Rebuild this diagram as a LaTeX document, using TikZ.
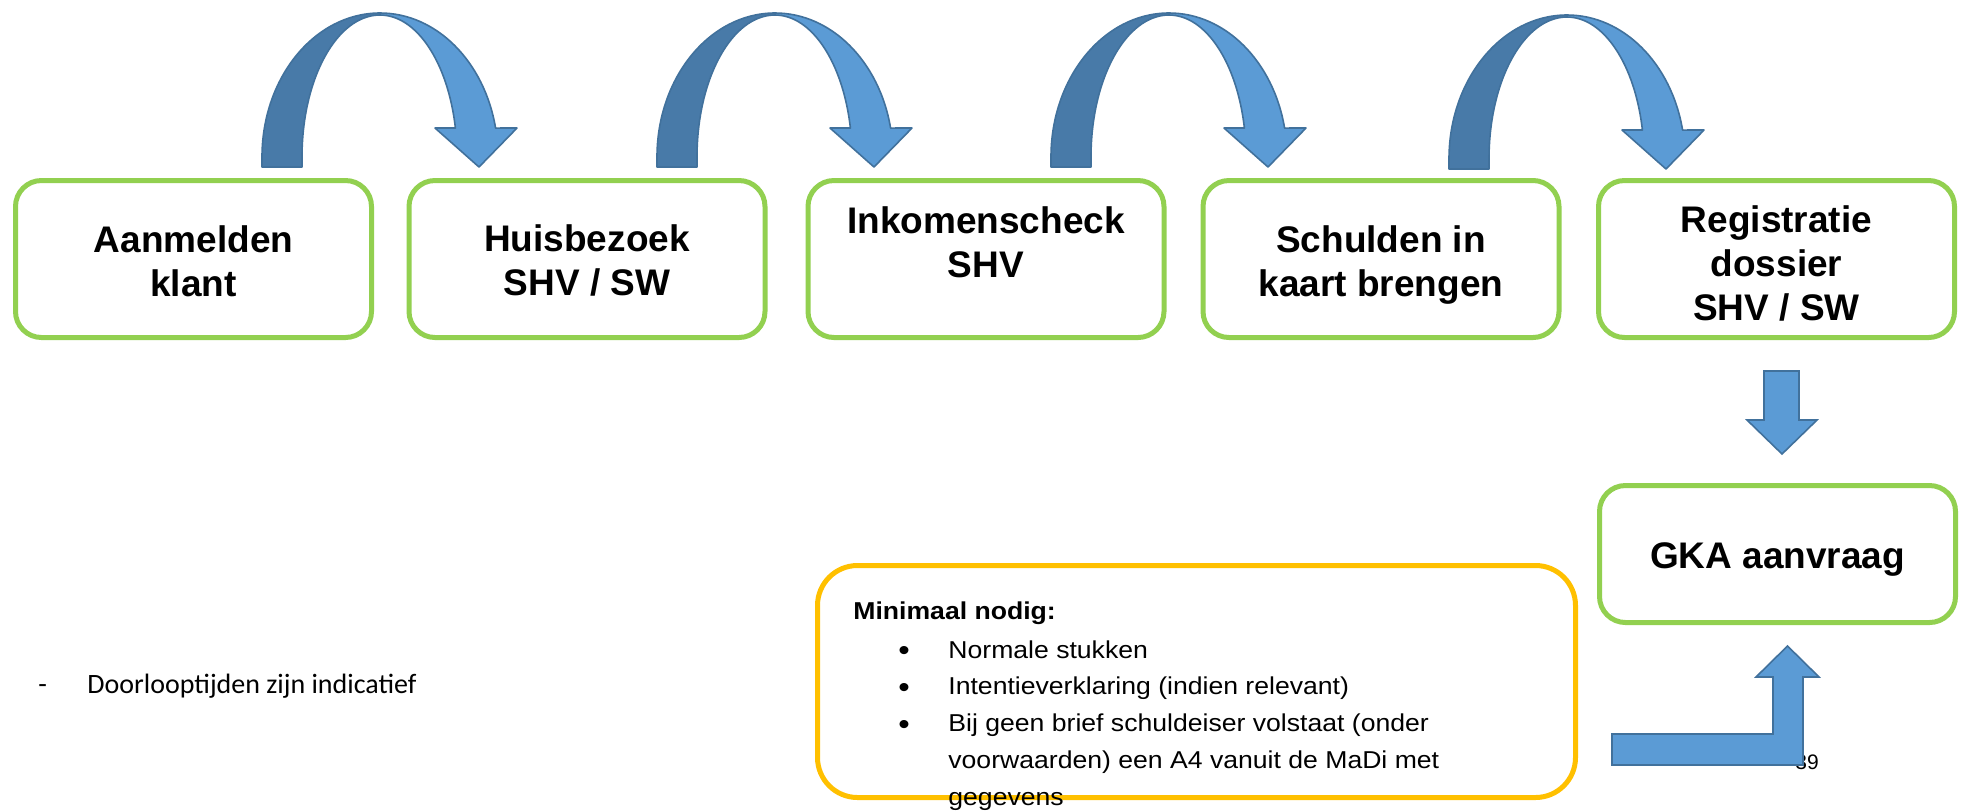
\documentclass[tikz,border=0pt]{standalone}
\usepackage{fontspec}
\setmainfont{Liberation Sans}
\newfontfamily\calibrifont{Carlito}
\newfontfamily\listfont[FakeStretch=1.09]{Liberation Sans}
\usepackage{array}
\definecolor{boxgreen}{HTML}{92D050}
\definecolor{boxorange}{HTML}{FFC000}
\definecolor{arrowlight}{HTML}{5B9BD5}
\definecolor{arrowdark}{HTML}{487AA8}
\definecolor{arrowedge}{HTML}{41719C}
\tikzset{
  stepbox/.style={draw=boxgreen, line width=2.5pt, rounded corners=13pt,
    minimum width=178pt, minimum height=78.5pt, inner sep=0pt, fill=white},
  notebox/.style={draw=boxorange, line width=2.5pt, rounded corners=20pt,
    minimum width=379pt, minimum height=116pt, inner sep=0pt, fill=white},
  boxtext/.style={inner sep=0pt, anchor=base, font=\fontsize{18.5}{22}\selectfont\bfseries},
  blockarrow/.style={fill=arrowlight, draw=arrowedge, line width=0.8pt, line join=miter},
  curvarrow/.pic={
    \filldraw[fill=arrowdark, draw=arrowedge, line width=0.8pt, line join=round]
      (0,0) -- (0,-10) arc[start angle=180, end angle=270, x radius=118, y radius=144]
      -- (118,-152) arc[start angle=270, end angle=180, x radius=78, y radius=142]
      -- (40,0) -- cycle;
    \filldraw[fill=arrowlight, draw=arrowedge, line width=0.8pt, line join=round]
      (118,-154) arc[start angle=270, end angle=348.4, x radius=118, y radius=144]
      -- (255,-39) -- (217,0) -- (173,-39) -- (193.4,-39)
      arc[start angle=348.2, end angle=270, x radius=77, y radius=142] -- cycle;
  }
}
\begin{document}
\begin{tikzpicture}[x=0.5pt, y=-0.5pt]
\useasboundingbox (0,0) rectangle (1966,811);
\fill[white] (0,0) rectangle (1966,811);

% curved arrows
\pic at (262,167) {curvarrow};
\pic at (657,167) {curvarrow};
\pic at (1051,167) {curvarrow};
\pic at (1449,169) {curvarrow};

% step boxes
\node[stepbox] (b1) at (193.5,259) {};
\node[stepbox] (b2) at (587,259) {};
\node[stepbox] (b3) at (986,259) {};
\node[stepbox] (b4) at (1381,259) {};
\node[stepbox] (b5) at (1776.5,259) {};

\node[boxtext] (t1) at (193.5,252) {\begin{tabular}[t]{@{}c@{}}Aanmelden\\klant\end{tabular}};
\node[boxtext] (t2) at (587,251) {\begin{tabular}[t]{@{}c@{}}Huisbezoek\\SHV / SW\end{tabular}};
\node[boxtext] (t3) at (986,233) {\begin{tabular}[t]{@{}c@{}}Inkomenscheck\\SHV\end{tabular}};
\node[boxtext] (t4) at (1381,252) {\begin{tabular}[t]{@{}c@{}}Schulden in\\kaart brengen\end{tabular}};
\node[boxtext] (t5) at (1776.5,232) {\begin{tabular}[t]{@{}c@{}}Registratie\\dossier\\SHV / SW\end{tabular}};

% GKA box
\node[stepbox, minimum height=68.5pt] (gka) at (1777.5,554) {};
\node[boxtext] (tg) at (1777.5,568) {GKA aanvraag};

% down arrow
\draw[blockarrow] (1764,371) -- (1799,371) -- (1799,420) -- (1817,420) -- (1782,454)
  -- (1747,420) -- (1764,420) -- cycle;

% page number
\node[inner sep=0pt, anchor=base west, font=\fontsize{10.5}{12}\selectfont] (pg) at (1795,769) {39};

% bent up arrow
\draw[blockarrow] (1612,734) -- (1773,734) -- (1773,677) -- (1756,677) -- (1787.5,646)
  -- (1819,677) -- (1803,677) -- (1803,765) -- (1612,765) -- cycle;

% note box
\node[notebox] (note) at (1196.5,681.5) {};
\node[inner sep=0pt, anchor=base west, font=\listfont\fontsize{12.2}{18.4}\selectfont\bfseries] (nh) at (853,619) {Minimaal nodig:};
\node[inner sep=0pt, anchor=base west, font=\listfont\fontsize{12.2}{18.4}\selectfont] (nl) at (898,658) {%
\begin{tabular}[t]{@{}p{25pt}@{}l@{}}
{\fontsize{15}{18.4}\selectfont\raisebox{-1.2pt}{\textbullet}} & Normale stukken\\
{\fontsize{15}{18.4}\selectfont\raisebox{-1.2pt}{\textbullet}} & Intentieverklaring (indien relevant)\\
{\fontsize{15}{18.4}\selectfont\raisebox{-1.2pt}{\textbullet}} & Bij geen brief schuldeiser volstaat (onder\\
 & voorwaarden) een A4 vanuit de MaDi met\\
 & gegevens
\end{tabular}};

% side remark
\node[inner sep=0pt, anchor=base west, font=\calibrifont\fontsize{14}{17}\selectfont] (dash) at (38,693) {-};
\node[inner sep=0pt, anchor=base west, font=\calibrifont\fontsize{14}{17}\selectfont] (rem) at (87,693) {Doorlooptijden zijn indicatief};
\end{tikzpicture}
\end{document}
